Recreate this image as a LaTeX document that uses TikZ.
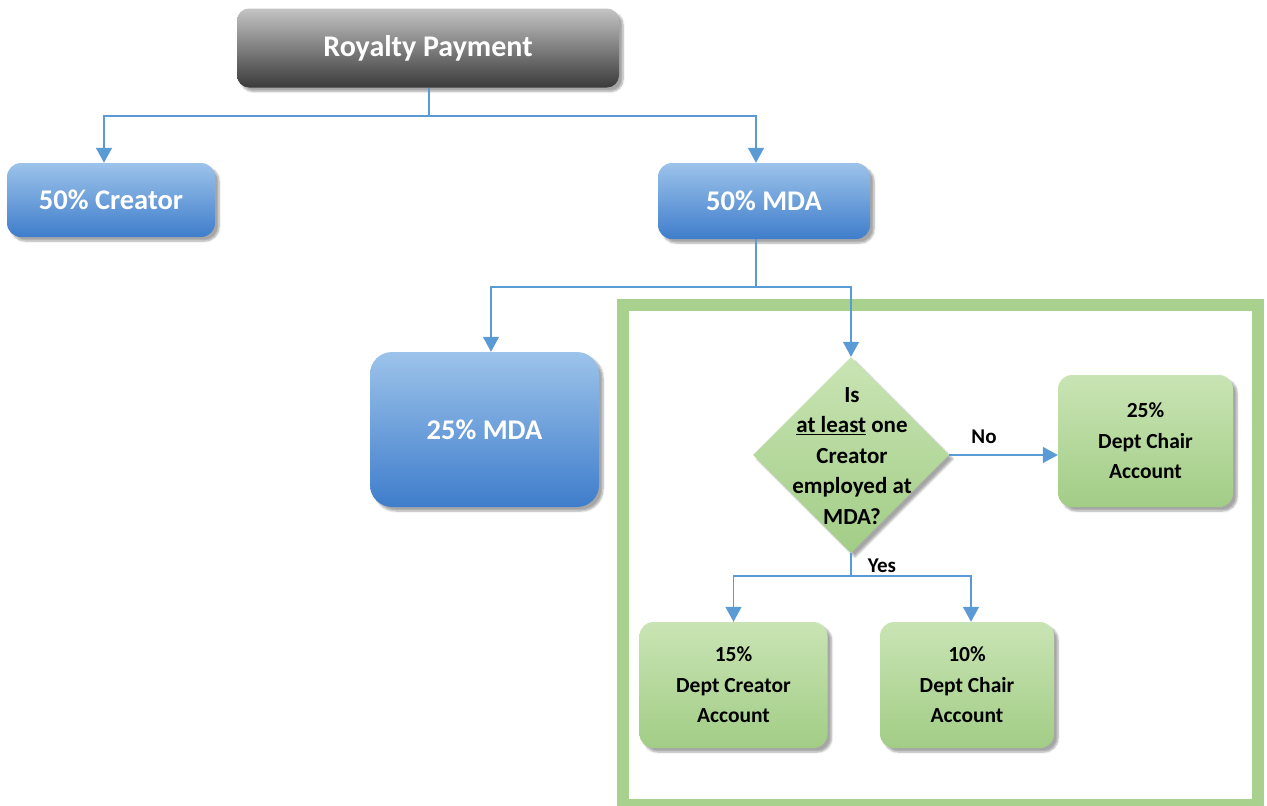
\documentclass[tikz,border=0pt]{standalone}
\usepackage{fontspec}
\setmainfont{Carlito}
\usetikzlibrary{shapes.geometric,arrows.meta,shadows.blur}
\definecolor{linkblue}{HTML}{5B9BD5}
\definecolor{bluetop}{HTML}{9CC3EA}
\definecolor{bluebot}{HTML}{3F7DCB}
\definecolor{greentop}{HTML}{C9E4B4}
\definecolor{greenbot}{HTML}{A2CD86}
\definecolor{framegreen}{HTML}{A9D18E}
\definecolor{graytop}{HTML}{C4C4C4}
\definecolor{graybot}{HTML}{3A3A3A}
\begin{document}
\begin{tikzpicture}[x=1pt, y=-1pt,
  box/.style={rounded corners=14pt, inner sep=0pt, align=center,
    font=\bfseries\fontsize{28.5}{34}\selectfont,
    blur shadow={shadow xshift=4pt, shadow yshift=-4pt, shadow opacity=35, shadow blur steps=6}},
  bluebox/.style={box, top color=bluetop, bottom color=bluebot, text=white},
  greenbox/.style={box, top color=greentop, bottom color=greenbot,
    font=\bfseries\fontsize{21.5}{30.5}\selectfont},
  line/.style={draw=linkblue, line width=1.4pt},
  conn/.style={line, -{Triangle[width=16pt,length=15pt]}},
  lbl/.style={font=\bfseries\fontsize{21}{25}\selectfont, inner sep=0pt}]
\useasboundingbox (0,0) rectangle (1267,806);
% frame round the department part
\draw[framegreen, line width=12pt] (623,305) rectangle (1258,805);
% boxes
\node[box, top color=graytop, bottom color=graybot, text=white, rounded corners=12pt,
  font=\bfseries\fontsize{30}{34}\selectfont,
  minimum width=382pt, minimum height=79pt] (pay) at (428,48) {Royalty Payment};
\node[bluebox, minimum width=208pt, minimum height=74pt] (creator) at (111,200) {50\% Creator};
\node[bluebox, minimum width=212pt, minimum height=76pt] (mdafifty) at (764,201) {50\% MDA};
\node[bluebox, rounded corners=22pt, minimum width=229pt, minimum height=155pt] (mdaquarter) at (484.5,429.5) {25\% MDA};
\node[diamond, aspect=1, inner sep=0pt, minimum size=196pt, top color=greentop, bottom color=greenbot,
  blur shadow={shadow xshift=4pt, shadow yshift=-4pt, shadow opacity=35, shadow blur steps=6}] (check) at (851,455) {};
\node[align=center, inner sep=0pt, font=\bfseries\fontsize{23}{30.5}\selectfont] (checktext) at (852,456)
  {Is\\\underline{at least} one\\Creator\\employed at\\MDA?};
\node[greenbox, minimum width=175pt, minimum height=132pt] (chairquarter) at (1145.5,441) {25\%\\Dept Chair\\Account};
\node[greenbox, minimum width=188pt, minimum height=126pt] (creatoracct) at (733.5,685) {15\%\\Dept Creator\\Account};
\node[greenbox, minimum width=174pt, minimum height=126pt] (chairtenth) at (967,685) {10\%\\Dept Chair\\Account};
% connectors
\coordinate (topsplit) at (429,116);
\draw[line] (pay.south -| topsplit) -- (topsplit);
\draw[conn] (topsplit) -| ([xshift=-7pt]creator.north);
\draw[conn] (topsplit) -| ([xshift=-8pt]mdafifty.north);
\coordinate (midsplit) at (756,287);
\draw[line] (mdafifty.south -| midsplit) -- (midsplit);
\draw[conn] (midsplit) -| ([xshift=6.5pt]mdaquarter.north);
\draw[conn] (midsplit) -| (check.north);
\draw[conn] (check.east) -- (check.east -| chairquarter.west);
\node[lbl] (no) at (984,437) {No};
\coordinate (yessplit) at (851,576);
\draw[line] (check.south) -- (yessplit);
\draw[conn] (yessplit) -| (creatoracct.north);
\draw[conn] (yessplit) -| ([xshift=4pt]chairtenth.north);
\node[lbl] (yes) at (882,566) {Yes};
\end{tikzpicture}
\end{document}
